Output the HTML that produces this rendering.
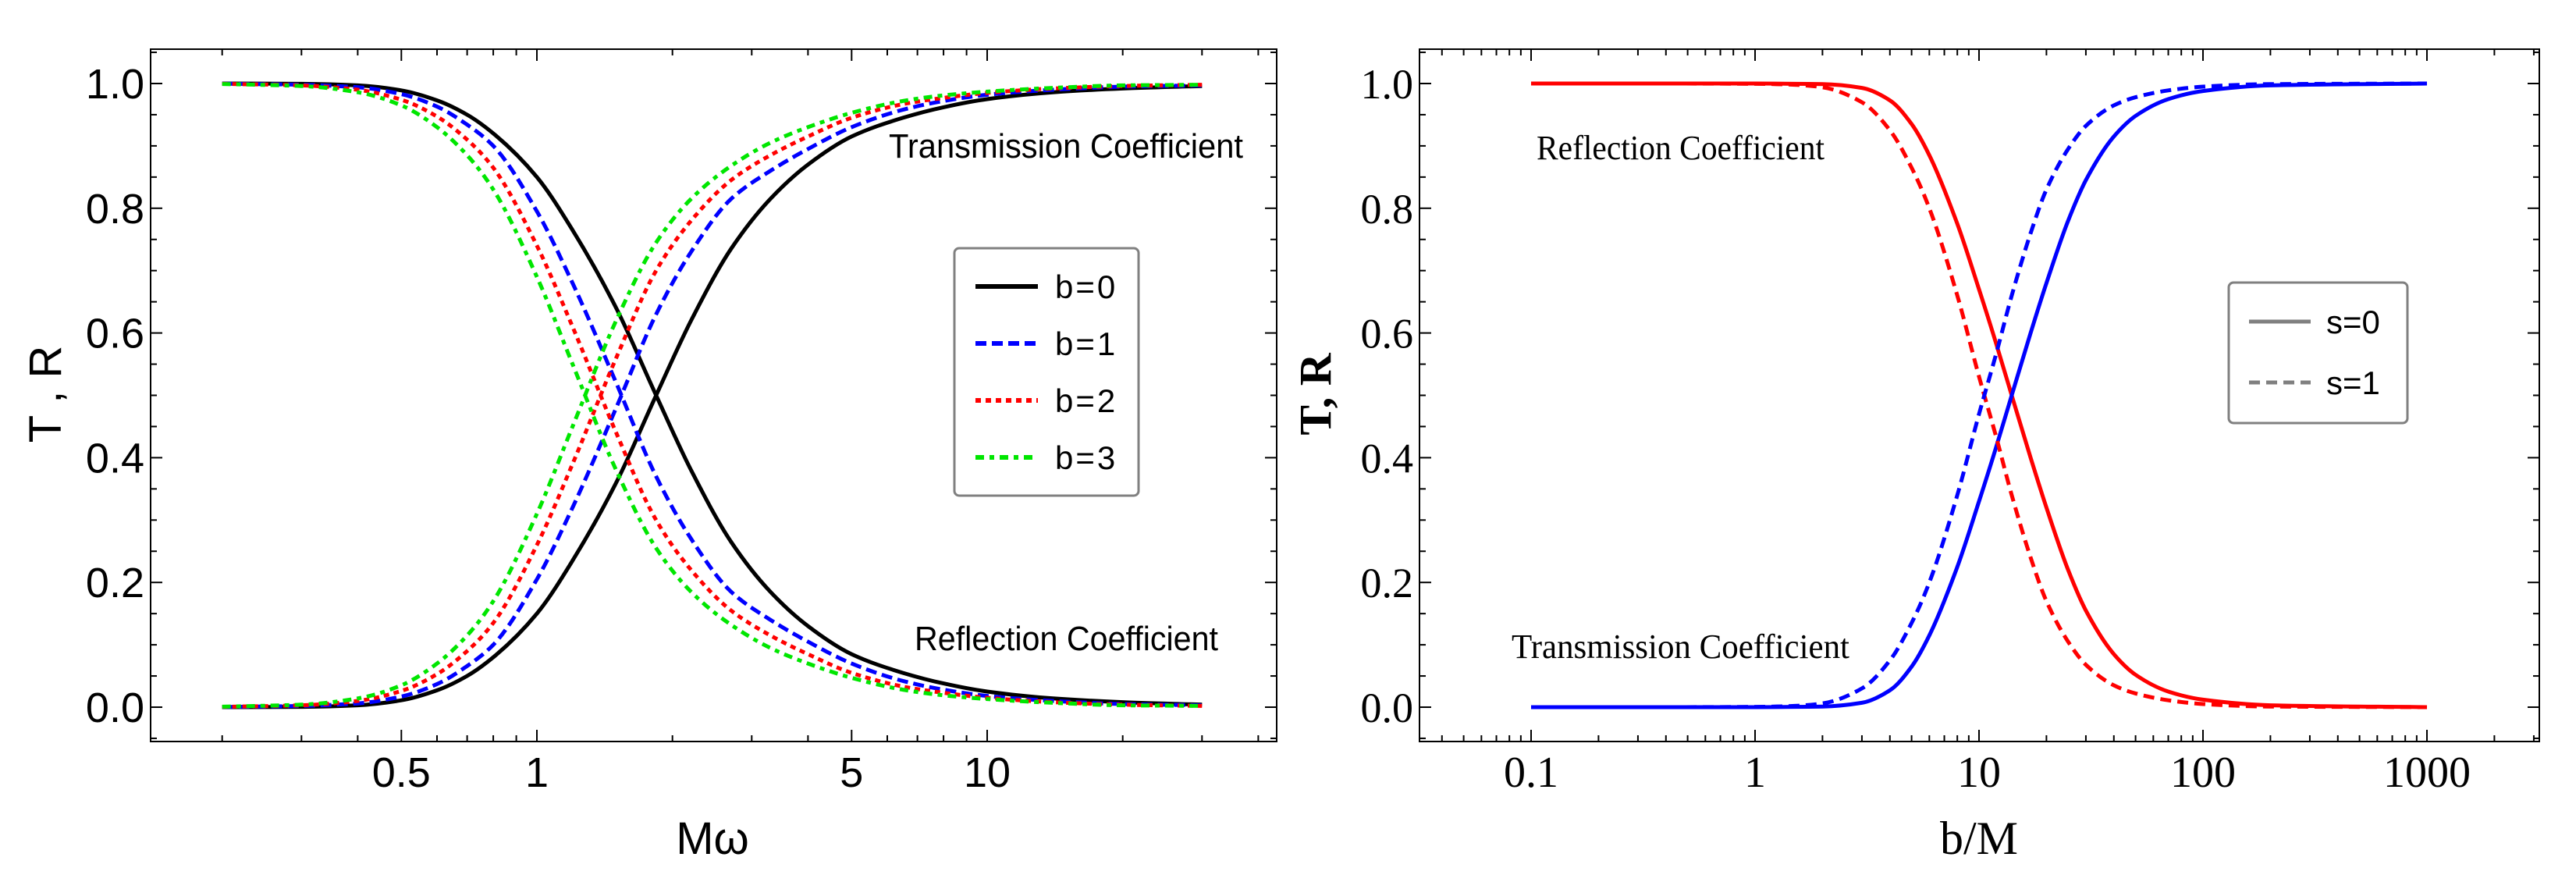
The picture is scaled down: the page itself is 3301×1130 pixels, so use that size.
<!DOCTYPE html>
<html><head><meta charset="utf-8"><style>
html,body{margin:0;padding:0;background:#fff;}
svg{display:block;}
</style></head><body>
<svg id="chart" width="3301" height="1130" viewBox="0 0 3301 1130" xmlns="http://www.w3.org/2000/svg">
<rect width="3301" height="1130" fill="#fff"/>
<g id="left"></g>
<g id="right"></g>
</svg>
<script>
// ---- left chart data (Mω vs T) ----
const leftX = [0.2,0.3,0.4,0.5,0.6,0.7,0.8,1.0,1.2,1.5,1.84,2.2,2.7,3.3,4,5,6.5,8,10,14,20,30];
const leftTb0 = [0,0.0005,0.003,0.011,0.027,0.05,0.08,0.15,0.235,0.36,0.5,0.62,0.735,0.815,0.87,0.915,0.945,0.962,0.975,0.986,0.992,0.996];
const leftTb1 = [0.0003,0.002,0.006,0.017,0.037,0.066,0.10,0.205,0.32,0.48,0.63,0.73,0.815,0.86,0.895,0.93,0.958,0.972,0.982,0.99,0.995,0.997];
const leftTb2 = [0.0005,0.003,0.010,0.026,0.053,0.09,0.135,0.26,0.39,0.56,0.70,0.78,0.845,0.885,0.915,0.945,0.967,0.977,0.985,0.992,0.996,0.998];
const leftTb3 = [0.0008,0.004,0.014,0.035,0.07,0.115,0.17,0.31,0.45,0.62,0.745,0.815,0.868,0.905,0.93,0.953,0.972,0.981,0.987,0.993,0.997,0.998];
const leftXTicks = [0.5,1,5,10];
const leftXTickLabels = ["0.5","1","5","10"];
const yTicks = [0,0.2,0.4,0.6,0.8,1.0];
const yTickLabels = ["0.0","0.2","0.4","0.6","0.8","1.0"];
const leftLegend = ["b=0","b=1","b=2","b=3"];
// ---- right chart data (b/M vs T) ----
const rightX = [0.1,0.3,1,1.5,2,3,4,5,6,8,10,12,14,17,20,25,30,40,50,70,100,200,1000];
const rightTs0 = [0,0,0,0.0005,0.001,0.007,0.027,0.065,0.115,0.225,0.33,0.42,0.5,0.6,0.68,0.78,0.845,0.915,0.948,0.975,0.988,0.997,1];
const rightTs1 = [0,0,0.0005,0.002,0.006,0.03,0.075,0.135,0.2,0.34,0.47,0.57,0.66,0.76,0.83,0.895,0.932,0.965,0.978,0.989,0.995,0.999,1];
const rightXTicks = [0.1,1,10,100,1000];
const rightXTickLabels = ["0.1","1","10","100","1000"];
const rightLegend = ["s=0","s=1"];

const NS="http://www.w3.org/2000/svg";
function mk(parent,tag,attrs,text){const e=document.createElementNS(NS,tag);for(const k in attrs)e.setAttribute(k,attrs[k]);if(text!==undefined)e.textContent=text;parent.appendChild(e);return e;}
const yPx = v => 906 - 799*v;
const lx = v => 688 + 577*Math.log10(v);
const rx = v => 2249 + 287*Math.log10(v);

// monotone cubic (Fritsch-Carlson) in pixel space, densely sampled
function monoPath(pts){
  const n=pts.length, xs=pts.map(p=>p[0]), ys=pts.map(p=>p[1]);
  const d=[],m=[];
  for(let i=0;i<n-1;i++) d.push((ys[i+1]-ys[i])/(xs[i+1]-xs[i]));
  m[0]=d[0]; m[n-1]=d[n-2];
  for(let i=1;i<n-1;i++){
    if(d[i-1]*d[i]<=0) m[i]=0;
    else { const h0=xs[i]-xs[i-1],h1=xs[i+1]-xs[i];
      const w1=2*h1+h0,w2=h1+2*h0; m[i]=(w1+w2)/(w1/d[i-1]+w2/d[i]); }
  }
  let s="M"+xs[0].toFixed(1)+","+ys[0].toFixed(1);
  for(let i=0;i<n-1;i++){
    const h=xs[i+1]-xs[i];
    s+=" C"+(xs[i]+h/3).toFixed(1)+","+(ys[i]+m[i]*h/3).toFixed(1)+" "+(xs[i+1]-h/3).toFixed(1)+","+(ys[i+1]-m[i+1]*h/3).toFixed(1)+" "+xs[i+1].toFixed(1)+","+ys[i+1].toFixed(1);
  }
  return s;
}

function frame(g,x0,x1,xf,majors,labels,minors,sans){
  const top=63,bot=950;
  const r=mk(g,'rect',{x:x0,y:top,width:x1-x0,height:bot-top,fill:'none',stroke:'#000','stroke-width':2});
  
  
  const fam = sans ? '"Liberation Sans", sans-serif' : '"Liberation Serif", serif';
  for(let k=-1;k<=21;k++){
    const v=k*0.05; const y=yPx(v); if(y<top||y>bot)continue;
    const major=(k%4===0);const L=major?15:8;
    mk(g,'line',{x1:x0,y1:y,x2:x0+L,y2:y,stroke:'#000','stroke-width':2});
    mk(g,'line',{x1:x1,y1:y,x2:x1-L,y2:y,stroke:'#000','stroke-width':2});
  }
  yTicks.forEach((v,i)=>{
    const t=mk(g,'text',{x:x0-8,y:yPx(v)+19,'text-anchor':'end','font-family':fam,'font-size':54},yTickLabels[i]);
    
    
  });
  minors.forEach(v=>{const x=xf(v); if(x<x0||x>x1)return;
    mk(g,'line',{x1:x,y1:bot,x2:x,y2:bot-8,stroke:'#000','stroke-width':2});
    mk(g,'line',{x1:x,y1:top,x2:x,y2:top+8,stroke:'#000','stroke-width':2});});
  majors.forEach((v,i)=>{const x=xf(v);
    mk(g,'line',{x1:x,y1:bot,x2:x,y2:bot-15,stroke:'#000','stroke-width':2});
    mk(g,'line',{x1:x,y1:top,x2:x,y2:top+15,stroke:'#000','stroke-width':2});
    const t=mk(g,'text',{x:x,y:1008,'text-anchor':'middle','font-family':fam,'font-size':sans?54:56},labels[i]);
    
    
  });
}

// ---------- LEFT ----------
const L=document.getElementById('left');
const leftMinors=[0.2,0.3,0.4,0.6,0.7,0.8,0.9,2,3,4,6,7,8,9,20,30,40];
frame(L,193,1636,lx,leftXTicks,leftXTickLabels,leftMinors,true);
const leftSeries=[
 {t:leftTb0,c:'#000',dash:'',name:'b0'},
 {t:leftTb1,c:'#0000ff',dash:'14 7',name:'b1'},
 {t:leftTb2,c:'#ff0000',dash:'7 6',name:'b2'},
 {t:leftTb3,c:'#00e600',dash:'11 7 6 7',name:'b3'}];
leftSeries.forEach(s=>{
  const pT=leftX.map((x,i)=>[lx(x),yPx(s.t[i])]);
  const pR=leftX.map((x,i)=>[lx(x),yPx(1-s.t[i])]);
  const a=mk(L,'path',{d:monoPath(pT),fill:'none',stroke:s.c,'stroke-width':5,'stroke-dasharray':s.dash});
  
  
  const b=mk(L,'path',{d:monoPath(pR),fill:'none',stroke:s.c,'stroke-width':5,'stroke-dasharray':s.dash});
  
  
});
let t;
t=mk(L,'text',{x:1139,y:202,'font-family':'"Liberation Sans", sans-serif','font-size':44,textLength:454,lengthAdjust:'spacingAndGlyphs'},'Transmission Coefficient');


t=mk(L,'text',{x:1172,y:833,'font-family':'"Liberation Sans", sans-serif','font-size':44,textLength:389,lengthAdjust:'spacingAndGlyphs'},'Reflection Coefficient');


t=mk(L,'text',{x:0,y:0,'text-anchor':'middle','font-family':'"Liberation Sans", sans-serif','font-size':58,transform:'translate(78,505) rotate(-90)'},'T , R');


t=mk(L,'text',{x:913,y:1094,'text-anchor':'middle','font-family':'"Liberation Sans", sans-serif','font-size':58},'Mω');


const lg=mk(L,'g',{});


mk(lg,'rect',{x:1223,y:318,width:236,height:317,rx:6,fill:'#fff',stroke:'#808080','stroke-width':3});
leftSeries.forEach((s,i)=>{
  const y=367+i*73;
  const e=mk(lg,'line',{x1:1250,y1:y,x2:1330,y2:y,stroke:s.c,'stroke-width':6,'stroke-dasharray':s.dash});
  
  
  const tx=mk(lg,'text',{x:1352,y:y+15,'font-family':'"Liberation Sans", sans-serif','font-size':42,'letter-spacing':3},leftLegend[i]);
  
  
});

// ---------- RIGHT ----------
const R=document.getElementById('right');
const rightMinors=[];
[0.01,0.1,1,10,100,1000].forEach(d=>{for(let m=2;m<=9;m++)rightMinors.push(d*m);});
frame(R,1819,3254,rx,rightXTicks,rightXTickLabels,rightMinors,false);
const rightSeries=[{t:rightTs0,dash:'',name:'s0'},{t:rightTs1,dash:'14 8',name:'s1'}];
rightSeries.forEach(s=>{
  const pR=rightX.map((x,i)=>[rx(x),yPx(1-s.t[i])]);
  const pT=rightX.map((x,i)=>[rx(x),yPx(s.t[i])]);
  const a=mk(R,'path',{d:monoPath(pR),fill:'none',stroke:'#ff0000','stroke-width':5,'stroke-dasharray':s.dash});
  
  
  const b=mk(R,'path',{d:monoPath(pT),fill:'none',stroke:'#0000ff','stroke-width':5,'stroke-dasharray':s.dash});
  
  
});
t=mk(R,'text',{x:1969,y:204,'font-family':'"Liberation Serif", serif','font-size':44,textLength:369,lengthAdjust:'spacingAndGlyphs'},'Reflection   Coefficient');


t=mk(R,'text',{x:1937,y:843,'font-family':'"Liberation Serif", serif','font-size':44,textLength:433,lengthAdjust:'spacingAndGlyphs'},'Transmission   Coefficient');


t=mk(R,'text',{x:0,y:0,'text-anchor':'middle','font-family':'"Liberation Serif", serif','font-size':58,'font-weight':'bold',transform:'translate(1705,505) rotate(-90)'},'T, R');


t=mk(R,'text',{x:2536,y:1094,'text-anchor':'middle','font-family':'"Liberation Serif", serif','font-size':60},'b/M');


const rg=mk(R,'g',{});


mk(rg,'rect',{x:2856,y:362,width:229,height:180,rx:6,fill:'#fff',stroke:'#808080','stroke-width':3});
rightSeries.forEach((s,i)=>{
  const y=412+i*78;
  const e=mk(rg,'line',{x1:2882,y1:y,x2:2961,y2:y,stroke:'#808080','stroke-width':5,'stroke-dasharray':s.dash});
  
  
  const tx=mk(rg,'text',{x:2981,y:y+15,'font-family':'"Liberation Sans", sans-serif','font-size':42},rightLegend[i]);
  
  
});
</script>
</body></html>
